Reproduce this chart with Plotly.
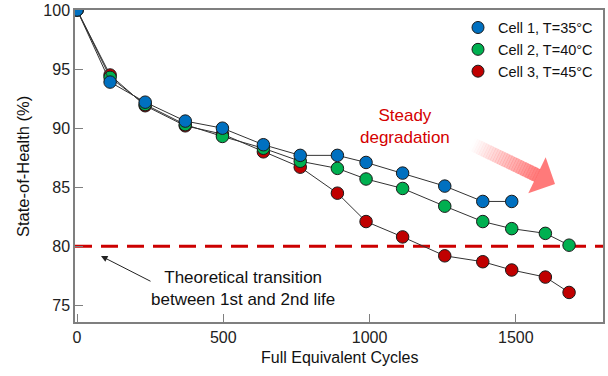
import plotly.graph_objects as go
import math

# ---- data ----
cycles = [0, 113, 233, 370, 497, 637, 763, 890, 988, 1113, 1257, 1387, 1486, 1601, 1682]
soh_cell1 = [100, 93.9, 92.2, 90.6, 90.0, 88.6, 87.7, 87.7, 87.1, 86.2, 85.1, 83.8, 83.8]
soh_cell2 = [100, 94.3, 92.0, 90.3, 89.3, 88.3, 87.2, 86.6, 85.7, 84.9, 83.4, 82.1, 81.5, 81.1, 80.1]
soh_cell3 = [100, 94.5, 91.9, 90.2, 89.5, 88.0, 86.7, 84.5, 82.1, 80.8, 79.2, 78.7, 78.0, 77.4, 76.1]
names = ["Cell 1, T=35°C", "Cell 2, T=40°C", "Cell 3, T=45°C"]
colors = ["#0070C0", "#00B050", "#C00000"]
threshold = 80
x_ticks = [0, 500, 1000, 1500]
y_ticks = [75, 80, 85, 90, 95, 100]

FONT = "Liberation Sans, Arial, sans-serif"
W, H = 608, 376
L, R, T, B = 75, 5, 10, 54

fig = go.Figure()
series = [soh_cell1, soh_cell2, soh_cell3]
for i in [2, 1, 0]:
    ys = series[i]
    fig.add_trace(go.Scatter(
        x=cycles[:len(ys)], y=ys, mode="lines+markers", name=names[i], showlegend=False,
        line=dict(color="#333333", width=1),
        marker=dict(size=12.5, color=colors[i], line=dict(color="#1a1a1a", width=1)),
    ))
# legend entries (marker only)
for i in [0, 1, 2]:
    fig.add_trace(go.Scatter(
        x=[None], y=[None], mode="markers", name=names[i],
        marker=dict(size=12, color=colors[i], line=dict(color="#1a1a1a", width=1)),
    ))

# threshold dashed line
fig.add_shape(type="line", xref="paper", yref="y", x0=0, x1=1, y0=threshold, y1=threshold,
              line=dict(color="#CC0000", width=3, dash="17px,9px"), layer="below")

# gradient arrow (pixel geometry converted to paper coords)
pw, ph = W - L - R, H - T - B
def to_paper(px, py):
    return (px - L) / pw, (H - B - py) / ph

tail = (472.0, 144.0)
tip = (555.0, 184.0)
dx, dy = tip[0] - tail[0], tip[1] - tail[1]
ln = math.hypot(dx, dy)
ux, uy = dx / ln, dy / ln
nx, ny = -uy, ux
head_len = 20.0
shaft_hw = 7.0
head_hw = 20.0
shaft_len = ln - head_len

def pt(s, t):
    return (tail[0] + ux * s + nx * t, tail[1] + uy * s + ny * t)

def path(pts):
    p = [to_paper(*q) for q in pts]
    return "M " + " L ".join(f"{a:.5f},{b:.5f}" for a, b in p) + " Z"

nseg = 28
for k in range(nseg):
    s0 = shaft_len * k / nseg
    s1 = shaft_len * (k + 1) / nseg + 0.4
    a = 0.78 * ((k + 0.5) / nseg) ** 1.1
    fig.add_shape(type="path", xref="paper", yref="paper",
                  path=path([pt(s0, -shaft_hw), pt(s1, -shaft_hw), pt(s1, shaft_hw), pt(s0, shaft_hw)]),
                  fillcolor=f"rgba(255,85,85,{a:.3f})", line=dict(width=0), layer="above")
fig.add_shape(type="path", xref="paper", yref="paper",
              path=path([pt(shaft_len, -head_hw), pt(ln, 0), pt(shaft_len, head_hw)]),
              fillcolor="rgba(255,85,85,0.78)", line=dict(width=0), layer="above")

def note(px, py, text, size, color, **kw):
    xp, yp = to_paper(px, py)
    fig.add_annotation(xref="paper", yref="paper", x=xp, y=yp, text=text, showarrow=False,
                       xanchor="center", yanchor="middle",
                       font=dict(family=FONT, size=size, color=color), **kw)

# annotations
note(405, 126, "Steady<br>degradation", 17, "#D40000", align="center")
note(243, 288, "Theoretical transition<br>between 1st and 2nd life", 17, "#111111", align="center")
ax1, ay1 = to_paper(101, 256)
fig.add_annotation(xref="paper", yref="paper", x=ax1, y=ay1, ax=51, ay=26,
                   text="", showarrow=True,
                   arrowhead=2, arrowsize=1.3, arrowwidth=1, arrowcolor="#222222")

# axis titles
note(339, 357, "Full Equivalent Cycles", 16, "#111111")
note(23, 167, "State-of-Health (%)", 16.5, "#111111", textangle=-90)

axis_common = dict(showline=True, linecolor="#7f7f7f", linewidth=1.5, mirror=True,
                   ticks="inside", ticklen=8, tickcolor="#7f7f7f", tickwidth=1,
                   showgrid=False, zeroline=False, automargin=False,
                   tickfont=dict(family=FONT, size=16, color="#222222"))
fig.update_xaxes(range=[-7, 1798], tickvals=x_ticks, **axis_common)
fig.update_yaxes(range=[73.6, 100], tickvals=y_ticks, **axis_common)

lx = to_paper(498 - 40, 0)[0]
fig.update_layout(
    width=W, height=H,
    margin=dict(l=L, r=R, t=T, b=B),
    plot_bgcolor="white", paper_bgcolor="white",
    font=dict(family=FONT),
    legend=dict(x=lx, y=0.995, xanchor="left", yanchor="top",
                bgcolor="rgba(0,0,0,0)", font=dict(family=FONT, size=14.5, color="#111111"),
                itemwidth=30, tracegroupgap=0),
    showlegend=True,
)
fig.write_html("out.html", config={"displayModeBar": False},
               post_script="document.body.style.margin='0';document.body.style.padding='0';")
